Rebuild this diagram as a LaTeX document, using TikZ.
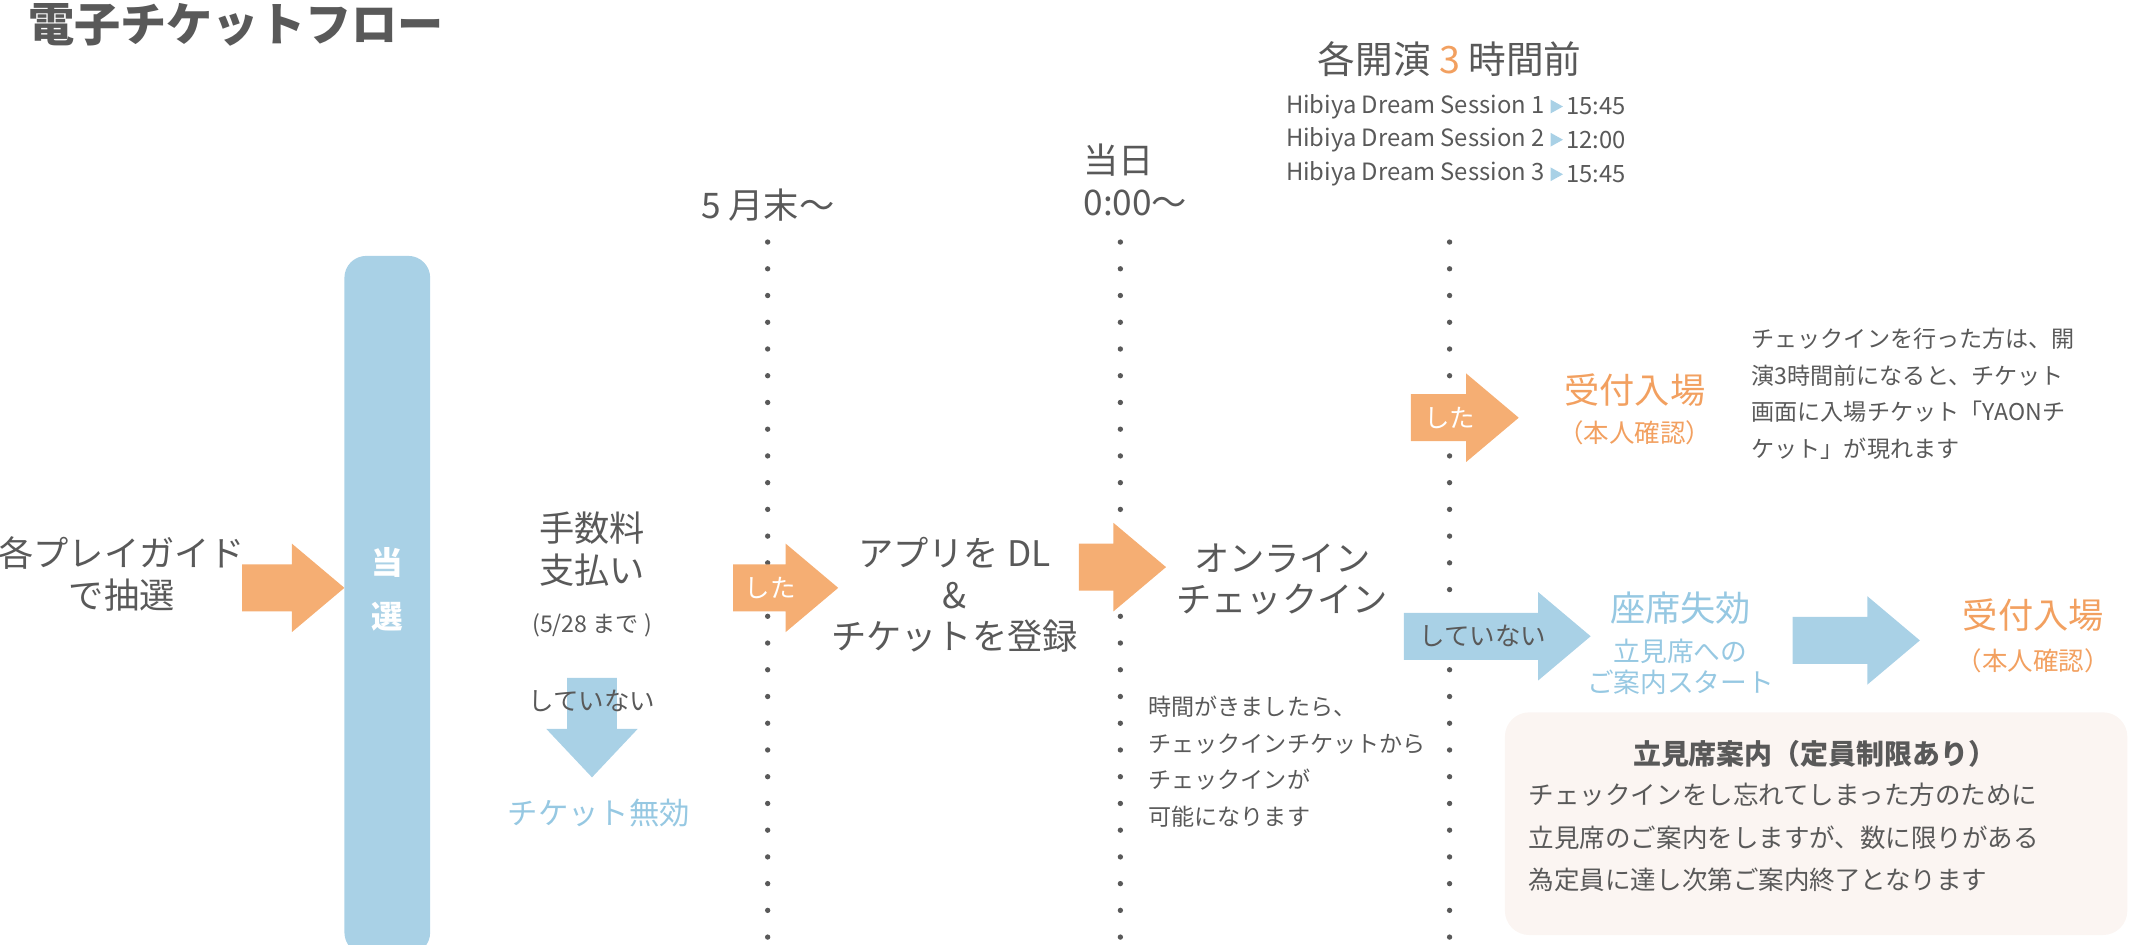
\documentclass[tikz,border=0pt]{standalone}
\usepackage{fontspec}
\setmainfont{Noto Sans CJK JP}
\usetikzlibrary{positioning,calc}
\definecolor{flowblue}{RGB}{169,209,230}
\definecolor{floworange}{RGB}{245,174,115}
\definecolor{flowtext}{RGB}{89,89,89}
\definecolor{flowotext}{RGB}{242,160,96}
\definecolor{flowbtext}{RGB}{150,200,226}
\definecolor{flowbox}{RGB}{251,245,242}
% horizontal arrow: x1, x2, y, colour
\newcommand\flowharrow[4]{\fill[#4] ({#1},{#3-17}) -- ({#2-38},{#3-17}) -- ({#2-38},{#3-32}) -- ({#2},{#3}) -- ({#2-38},{#3+32}) -- ({#2-38},{#3+17}) -- ({#1},{#3+17}) -- cycle;}
\begin{document}
\begin{tikzpicture}[x=0.02cm,y=-0.02cm,
  txt/.style={text=flowtext,font=\fontsize{14.5}{17}\selectfont,align=center,inner sep=0pt},
  small/.style={text=flowtext,font=\fontsize{9.5}{15}\selectfont,align=left,inner sep=0pt},
  otxt/.style={txt,text=flowotext},
  btxt/.style={txt,text=flowbtext},
  timeline/.style={flowtext,line width=2.2pt,dash pattern=on 0pt off 11pt,line cap=round}]
\useasboundingbox (0,0) rectangle (1545,683);
% title
\node[txt,font=\bfseries\fontsize{19}{22}\selectfont,anchor=west] (title) at (20,18) {電子チケットフロー};
% timelines
\foreach \x/\n in {555/a,810/b,1048/c}
  \draw[timeline] (\x,175) -- (\x,688);
\node[txt] (mayend) at (555,148) {5 月末〜};
\node[txt,anchor=west,align=left] (today) at (783,130) {当日\\0:00〜};
\node[txt,font=\fontsize{15.5}{18}\selectfont] (before) at (1048,43) {各開演 \textcolor{flowotext}{3} 時間前};
\foreach \n/\t/\y in {1/15:45/77,2/12:00/101,3/15:45/126}{
  \node[small,anchor=east,font=\fontsize{9.8}{12}\selectfont] (ses\n) at (1117,\y) {Hibiya Dream Session \n};
  \fill[flowblue] (1121,\y-5) -- (1130,\y) -- (1121,\y+5) -- cycle;
  \node[small,anchor=west,font=\fontsize{9.8}{12}\selectfont] (time\n) at (1132,\y) {\t};
}
% lottery
\node[txt,align=center] (guide) at (88,415) {各プレイガイド\\で抽選};
\flowharrow{175}{249}{425}{floworange}
\fill[flowblue,rounded corners=9] (249,185) rectangle (311,690);
\node[txt,text=white,font=\bfseries\fontsize{13}{22}\selectfont] (win) at (280,426) {当\\選};
% payment
\node[txt] (fee) at (428,397) {手数料\\支払い};
\node[txt,font=\fontsize{9.5}{11}\selectfont] (due) at (428,452) {(5/28 まで )};
\fill[flowblue] (410,490) -- (446,490) -- (446,527) -- (461,527) -- (428,562) -- (395,527) -- (410,527) -- cycle;
\node[txt,font=\fontsize{10.5}{12}\selectfont] (notpaid) at (428,507) {していない};
\node[btxt,font=\fontsize{12.5}{14}\selectfont] (invalid) at (433,588) {チケット無効};
\flowharrow{530}{606}{425}{floworange}
\node[txt,text=white,font=\fontsize{10.5}{12}\selectfont] (did1) at (557,425) {した};
% app
\node[txt] (app) at (690,430) {アプリを DL\\\&\\チケットを登録};
\flowharrow{780}{843}{410}{floworange}
\node[txt] (checkin) at (927,419) {オンライン\\チェックイン};
\node[small,anchor=north west] (note1) at (830,503) {時間がきましたら、\\チェックインチケットから\\チェックインが\\可能になります};
% checked in
\flowharrow{1020}{1098}{302}{floworange}
\node[txt,text=white,font=\fontsize{10.5}{12}\selectfont] (did2) at (1048,302) {した};
\node[otxt] (gate1) at (1182,282) {受付入場};
\node[otxt,font=\fontsize{10.5}{12}\selectfont] (id1) at (1182,313) {（本人確認）};
\node[small,anchor=north west,text width=260] (note2) at (1266,237) {チェックインを行った方は、開\\演3時間前になると、チケット\\画面に入場チケット「YAONチ\\ケット」が現れます};
% not checked in
\flowharrow{1015}{1150}{460}{flowblue}
\node[txt,font=\fontsize{10.5}{12}\selectfont] (notchk) at (1072,460) {していない};
\node[btxt] (lost) at (1215,440) {座席失効};
\node[btxt,font=\fontsize{11}{13}\selectfont] (stand) at (1215,482) {立見席への\\ご案内スタート};
\flowharrow{1296}{1388}{463}{flowblue}
\node[otxt] (gate2) at (1470,445) {受付入場};
\node[otxt,font=\fontsize{10.5}{12}\selectfont] (id2) at (1470,478) {（本人確認）};
% standing box
\fill[flowbox,rounded corners=10] (1088,515) rectangle (1538,676);
\node[txt,font=\bfseries\fontsize{11.5}{14}\selectfont] (boxtitle) at (1312,545) {立見席案内（定員制限あり）};
\node[small,anchor=north west,font=\fontsize{10.5}{17.5}\selectfont] (boxtext) at (1105,566) {チェックインをし忘れてしまった方のために\\立見席のご案内をしますが、数に限りがある\\為定員に達し次第ご案内終了となります};
\end{tikzpicture}
\end{document}
